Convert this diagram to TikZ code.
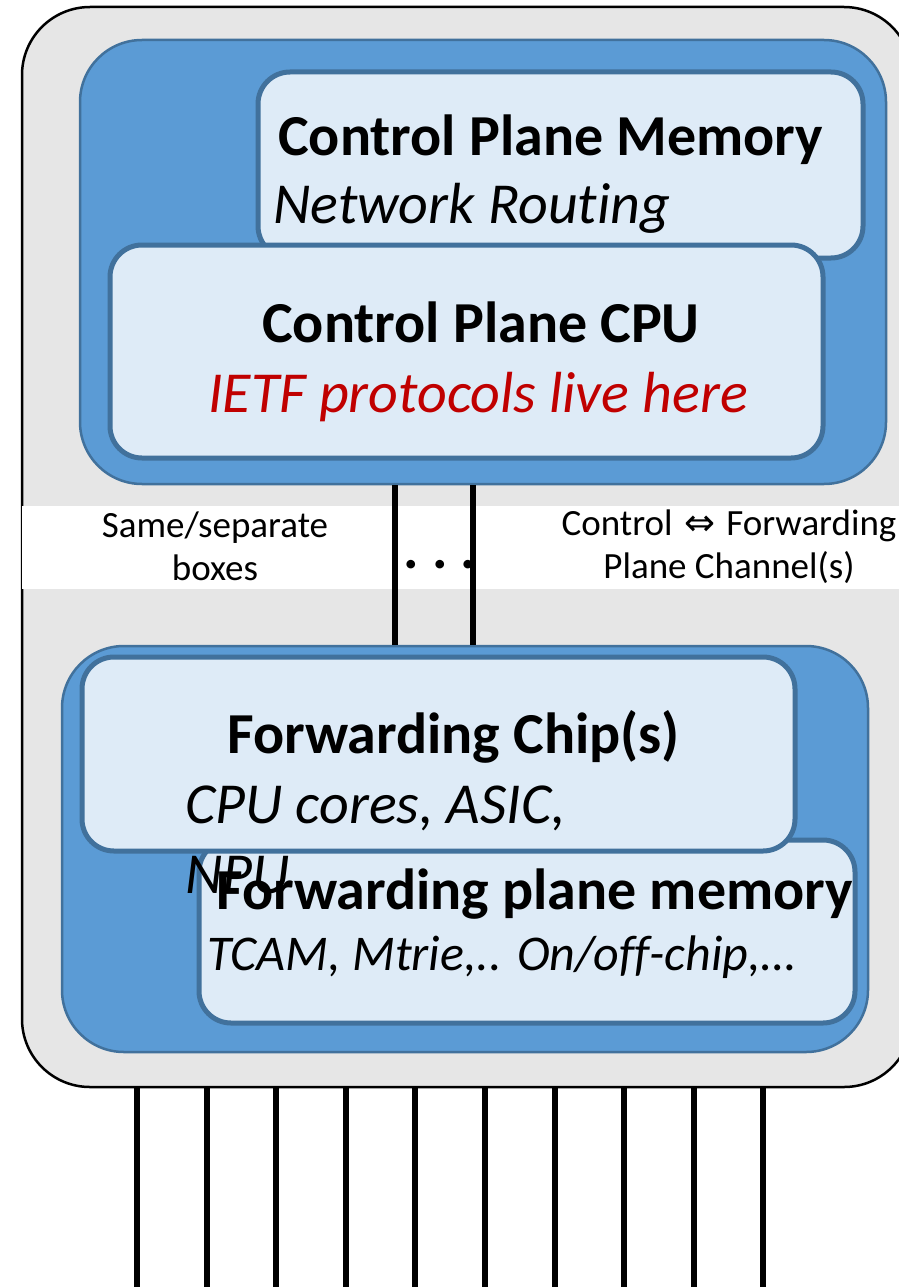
\documentclass[tikz,border=0pt]{standalone}
\usepackage{fontspec}
\setmainfont{Carlito}[Ligatures=NoCommon]
\newfontfamily\arrowfont{DejaVu Sans}
\usepackage{tikz}
\usetikzlibrary{positioning}

\definecolor{boxgray}{HTML}{E6E6E6}
\definecolor{planeblue}{HTML}{5B9BD5}
\definecolor{edgeblue}{HTML}{41719C}
\definecolor{partblue}{HTML}{DEEBF7}
\definecolor{protored}{HTML}{C00000}

\newcommand{\titlesize}{\fontsize{58}{70}\selectfont}
\newcommand{\labelsize}{\fontsize{37}{43}\selectfont}

\begin{document}
\begin{tikzpicture}[x=1pt,y=-1pt]
	\tikzstyle{chassis} = [draw=black, line width=2.5pt, fill=boxgray, rounded corners=68pt, inner sep=0pt]
	\tikzstyle{plane} = [draw=edgeblue, line width=2.5pt, fill=planeblue, rounded corners=62pt, inner sep=0pt]
	\tikzstyle{part} = [draw=edgeblue, line width=5pt, fill=partblue, rounded corners=32pt, inner sep=0pt]
	\tikzstyle{title} = [font=\titlesize\bfseries, inner sep=0pt, anchor=base west]
	\tikzstyle{note} = [font=\titlesize\itshape, inner sep=0pt, anchor=base west]
	\tikzstyle{wire} = [line width=6pt, black]

	\useasboundingbox (0,0) rectangle (898,1287);

%------------------------------------------------------------
	\node[chassis, minimum width=890pt, minimum height=1080pt] (router) at (467,547) {};
	\fill[white] (22,506) rectangle (920,589);

%------------------------------------------------------------

	\node[plane, minimum width=806pt, minimum height=444pt] (cpBox) at (483,262) {};
	\node[part, minimum width=605pt, minimum height=186pt] (cpMem) at (560.5,165) {};
	\node[part, minimum width=713pt, minimum height=213pt] (cpCpu) at (466.5,351.5) {};

	\node[title] (cpMemTitle) at (278,155) {Control Plane Memory};
	\node[note] (cpMemNote) at (273,223) {Network Routing};
	\node[title] (cpCpuTitle) at (262,342) {Control Plane CPU};
	\node[note, text=protored] (cpCpuNote) at (208,412) {IETF protocols live here};

%------------------------------------------------------------

	\node[plane, minimum width=806pt, minimum height=406pt] (fpBox) at (465,849) {};
	\node[part, minimum width=656pt, minimum height=183pt] (fpMem) at (527,931.5) {};
	\node[part, minimum width=713pt, minimum height=194pt] (fpChip) at (438.5,754) {};

	\node[title] (fpChipTitle) at (227,753) {Forwarding Chip(s)};
	\node[title] (fpMemTitle) at (216,909) {Forwarding plane memory};
	\node[note, font=\fontsize{50}{60}\selectfont\itshape] (fpMemNote) at (207,970) {TCAM, Mtrie,.. On/off-chip,…};
	\node[note, align=left] (fpChipNote) at (185,893) {CPU cores, ASIC,\\NPU};

%------------------------------------------------------------

	\coordinate (chanA) at (395,0);
	\coordinate (chanB) at (473,0);
	\draw[wire] (cpBox.south -| chanA) -- (fpBox.north -| chanA);
	\draw[wire] (cpBox.south -| chanB) -- (fpBox.north -| chanB);
	\node[title, anchor=base] (chanDots) at (440,568) {.\kern13pt.\kern13pt.};

	\node[font=\labelsize, align=center, inner sep=0pt, anchor=base] (boxNote) at (215,580) {Same/separate\\boxes};
	\node[font=\labelsize, align=center, inner sep=0pt, anchor=base] (chanNote) at (729,578) {Control {\arrowfont\kern3pt⇔\kern3pt} Forwarding\\Plane Channel(s)};

%------------------------------------------------------------

	\foreach \i in {0,...,9} {
		\coordinate (pin\i) at (137+69.6*\i,1287);
		\draw[wire] (router.south -| pin\i) -- (pin\i);
	}

\end{tikzpicture}
\end{document}
